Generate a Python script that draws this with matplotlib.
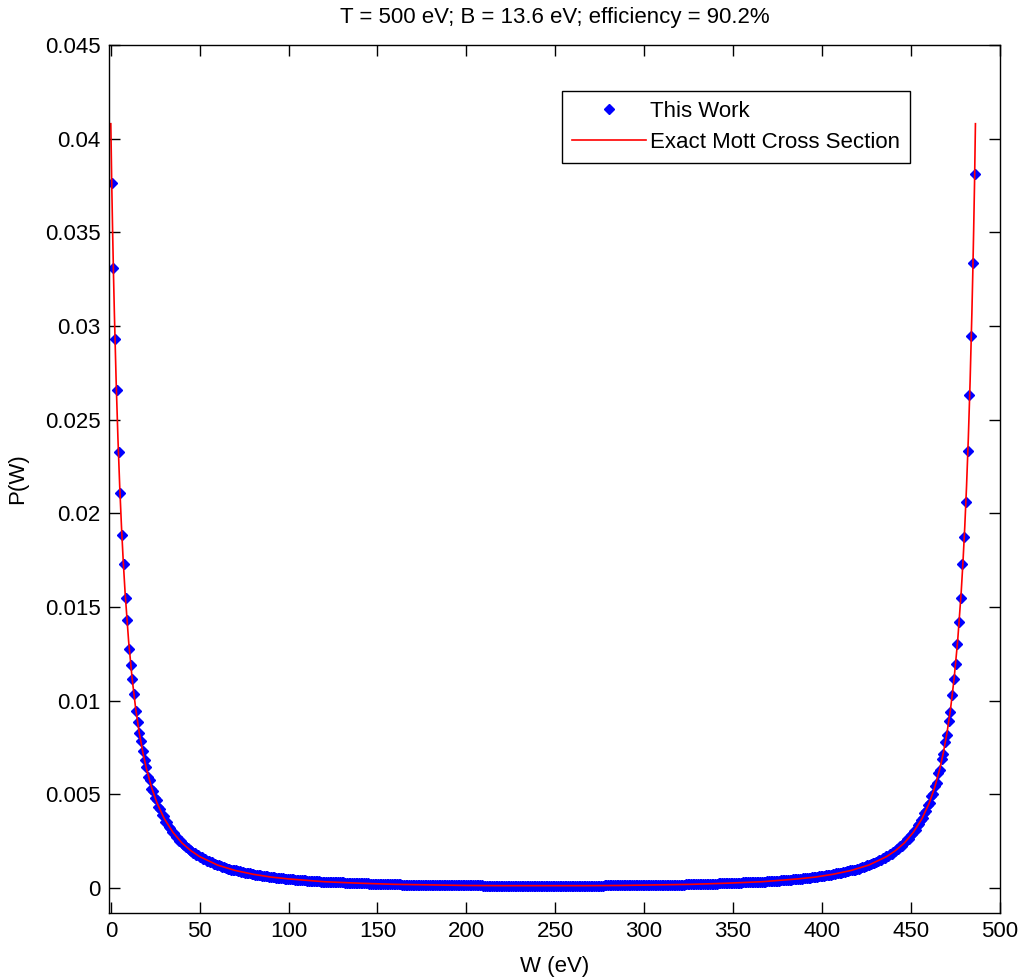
import numpy as np
import matplotlib
matplotlib.use("Agg")
import matplotlib.pyplot as plt
from matplotlib.ticker import FuncFormatter

plt.rcParams["font.family"] = ["Liberation Sans", "DejaVu Sans"]

# Histogram settings (T = 500 eV, B = 13.6 eV -> W runs 0 .. T-B)
w_max = 486.4
n_bins = 500

# "This Work" histogram heights, units of 1e-5
p_left_edge = [3761, 3308, 2931, 2657, 2325, 2108, 1882, 1729, 1548, 1432,
               1277, 1188, 1118, 1036, 942, 887, 826, 782, 730, 684,
               645, 591, 577, 530, 516, 478, 468, 431, 422, 391,
               383, 354, 350, 326, 319, 298, 293, 274, 270, 253,
               249, 234, 231, 217, 214, 201, 199, 188, 186, 176,
               174, 165, 163, 155, 153, 145, 144, 137, 136, 130]
p_middle_left = [129, 122, 121, 115, 114, 109, 108, 103, 102, 98, 97,
                 93, 93, 88, 88, 84, 84, 80, 81, 77, 77,
                 73, 74, 70, 71, 67, 68, 64, 65, 61, 62,
                 60, 58, 57, 56, 55, 54, 53, 52, 51, 50,
                 49, 48, 47, 46, 45, 44, 43, 43, 42, 41, 40, 40, 39, 38, 38,
                 37, 37, 36, 35, 35, 34, 34, 33, 33, 32, 32, 31, 31, 30, 30,
                 30, 29, 29, 29, 28, 28, 27, 27, 27, 26, 26, 26, 25, 25, 25,
                 24, 24, 24, 23, 23,
                 23, 23, 22, 22, 22, 21, 21, 21, 21, 20, 20, 20, 20, 19, 19,
                 19, 19, 18, 18, 18, 18, 18, 17, 17, 17,
                 17, 17, 17, 16, 16, 16, 16, 16, 16, 15, 15, 15, 15, 15, 15,
                 15, 14, 14, 14, 14, 14, 14, 14, 14, 14,
                 14, 14, 13, 13, 13, 13, 13, 13, 13, 13, 13, 13, 13, 13, 12,
                 12, 12, 12, 12, 12, 12, 12, 12, 12, 12,
                 12, 12, 12, 12, 12, 12, 12, 12, 12, 12, 12, 12, 12, 12, 12,
                 12, 12, 12, 12, 12, 12, 12, 12, 12]
p_middle_right = [12, 12, 12, 12, 12, 12, 12, 12, 12, 12, 12, 12, 12, 12, 12,
                  12, 12, 12, 12, 12, 12, 12, 12, 12,
                  12, 12, 12, 12, 12, 12, 12, 12, 12, 12, 12, 13, 13, 13, 13,
                  13, 13, 13, 13, 13, 13, 13, 13, 14, 14,
                  14, 14, 14, 14, 14, 14, 14, 14, 14, 15, 15, 15, 15, 15, 15,
                  15, 16, 16, 16, 16, 16, 16, 17, 17, 17,
                  17, 17, 17, 18, 18, 18, 18, 18, 19, 19, 19, 19, 20, 20, 20,
                  20, 21, 21, 21, 21, 22, 22, 22, 23, 23,
                  23, 23, 24, 24, 24, 25, 25, 25, 26, 26, 26, 27, 27, 27, 28,
                  28, 29, 29, 29, 30,
                  30, 30, 31, 31, 32, 32, 33, 33, 34, 34, 35, 35, 36, 37, 37,
                  38, 38, 39, 40, 40, 41, 42, 43, 43, 44, 45, 46, 47, 48, 49,
                  50, 51, 52, 53, 54, 55, 56, 57, 58, 60,
                  62, 61, 65, 64, 68, 67, 71, 70, 74, 73,
                  77, 77, 81, 80, 84, 84, 88, 88, 93, 93,
                  97, 98, 102, 103, 108, 109, 114, 115, 121, 122, 128]
p_right_edge = [132, 134, 140, 142, 148, 150, 158, 160, 169, 170,
                180, 182, 193, 195, 207, 209, 222, 226, 240, 243,
                260, 263, 281, 286, 306, 311, 334, 340, 365, 372,
                401, 409, 442, 452, 491, 503, 546, 561, 611, 632,
                689, 716, 781, 815, 893, 940, 1030, 1115, 1195, 1302,
                1419, 1548, 1729, 1871, 2060, 2333, 2632, 2945, 3335, 3812]

# "Exact Mott Cross Section" curve (P in units of 1e-5)
w_exact = [0, 0.5, 1, 1.5, 2, 3, 4, 5, 6, 7, 8, 10, 12, 14, 16, 18, 20, 23,
           26, 30, 35, 40, 45, 50, 60, 70, 80, 90, 100, 120, 140, 160, 180,
           200, 220, 243.2,
           266.4, 286.4, 306.4, 326.4, 346.4, 366.4, 386.4, 396.4, 406.4,
           416.4, 426.4, 436.4, 441.4, 446.4, 451.4, 456.4, 460.4, 463.4,
           466.4, 468.4, 470.4, 472.4, 474.4, 476.4, 478.4, 479.4, 480.4,
           481.4, 482.4, 483.4, 484.4, 484.9, 485.4, 485.9, 486.4]
p_exact = [4080, 3767, 3510, 3278, 3068, 2704, 2401, 2145, 1928, 1742, 1581,
           1319, 1117, 956, 828, 724, 638, 534, 453, 371, 296, 240, 199, 167,
           122, 93, 73, 58, 48, 33, 25, 19, 16, 13, 12, 12,
           12, 13, 16, 19, 25, 33, 48, 58, 73, 93, 122, 167, 199, 240, 296,
           371, 453, 534, 638, 724, 828, 956, 1117, 1319, 1581, 1742, 1928,
           2145, 2401, 2704, 3068, 3278, 3510, 3767, 4080]

p_work = np.array(p_left_edge + p_middle_left + p_middle_right + p_right_edge) * 1e-5
bin_w = w_max / n_bins
w_work = (np.arange(n_bins) + 0.5) * bin_w
p_exact = np.array(p_exact) * 1e-5

fig = plt.figure(figsize=(10.21, 9.77), dpi=100)
ax = fig.add_axes([0.1068, 0.0655, 0.8726, 0.8884])

ax.plot(w_work, p_work, linestyle="none", marker="D", markersize=5.5,
        markerfacecolor="blue", markeredgecolor="blue", markeredgewidth=1.0,
        label="This Work")
ax.plot(w_exact, p_exact, color="red", linewidth=1.2,
        label="Exact Mott Cross Section")

ax.set_xlim(-1, 500.2)
ax.set_ylim(-0.00134, 0.045)
ax.set_xticks(np.arange(0, 501, 50))
ax.set_yticks(np.arange(0, 0.0451, 0.005))
ax.yaxis.set_major_formatter(FuncFormatter(lambda v, _: f"{v:g}"))
ax.tick_params(direction="in", length=8, width=1, top=True, right=True,
               labelsize=16, pad=6)
for s in ax.spines.values():
    s.set_linewidth(1.0)

ax.set_title("T = 500 eV; B = 13.6 eV; efficiency = 90.2%", fontsize=16, pad=16)
ax.set_xlabel("W (eV)", fontsize=16, labelpad=10)
ax.set_ylabel("P(W)", fontsize=16, labelpad=12)

leg = ax.legend(loc="upper right", bbox_to_anchor=(0.899, 0.947),
                borderaxespad=0, fontsize=16, fancybox=False, framealpha=1,
                edgecolor="black", handlelength=3.3, handletextpad=0.2,
                borderpad=0.45, labelspacing=0.45)
leg.get_frame().set_linewidth(1.0)

fig.savefig("out.png", dpi=100)
